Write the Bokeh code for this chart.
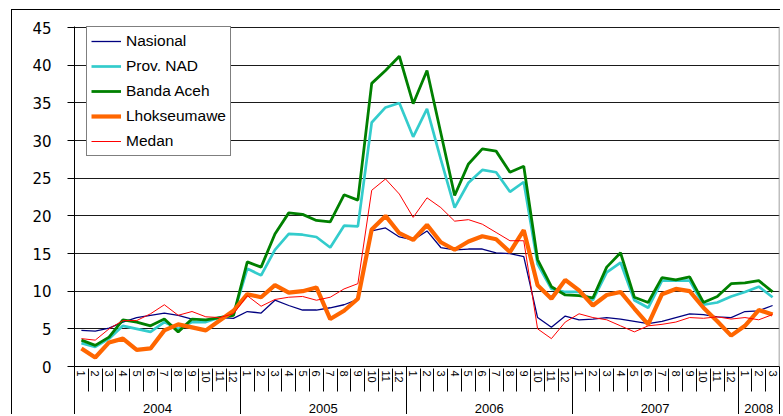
import math
from bokeh.plotting import figure
from bokeh.models import (Range1d, LinearAxis, FixedTicker, Span, Legend, LegendItem,
                          Grid, ColumnDataSource, BoxAnnotation, InlineStyleSheet)
from bokeh.embed import file_html
from bokeh.resources import INLINE

# ---------------- data ----------------
years = ["2004", "2005", "2006", "2007", "2008"]
months_per_year = [12, 12, 12, 12, 3]
month_labels = [str(m) for n in months_per_year for m in range(1, n + 1)]
y_ticks = [0, 5, 10, 15, 20, 25, 30, 35, 40, 45]

nasional = [4.8, 4.7, 5.1, 5.9, 6.5, 6.8, 7.1, 6.8, 6.3, 6.2, 6.5, 6.4,
            7.3, 7.1, 8.8, 8.1, 7.5, 7.5, 7.8, 8.2, 8.9, 18.0, 18.4, 17.2,
            16.8, 18.0, 15.8, 15.5, 15.6, 15.6, 15.1, 15.0, 14.6, 6.5, 5.2, 6.7,
            6.2, 6.3, 6.5, 6.3, 6.0, 5.7, 6.0, 6.5, 7.0, 6.9, 6.6, 6.5,
            7.3, 7.4, 8.1]
prov_nad = [3.1, 2.6, 3.7, 5.4, 5.0, 4.6, 5.9, 5.0, 5.9, 5.9, 6.5, 6.9,
            13.0, 12.1, 15.5, 17.6, 17.5, 17.2, 15.8, 18.7, 18.6, 32.4, 34.4, 35.0,
            30.5, 34.2, 27.5, 21.1, 24.4, 26.1, 25.8, 23.2, 24.5, 13.6, 10.3, 9.9,
            9.9, 8.8, 12.5, 13.8, 8.8, 7.8, 11.4, 11.4, 11.4, 8.2, 8.5, 9.3,
            9.9, 10.6, 9.2]
banda_aceh = [3.5, 2.8, 3.9, 6.2, 5.9, 5.4, 6.3, 4.6, 6.3, 6.2, 6.5, 6.8,
              13.9, 13.2, 17.6, 20.4, 20.2, 19.4, 19.2, 22.8, 22.1, 37.6, 39.3, 41.2,
              34.9, 39.3, 31.0, 22.7, 26.9, 28.9, 28.6, 25.8, 26.6, 14.2, 10.6, 9.5,
              9.4, 9.1, 13.2, 15.1, 9.2, 8.5, 11.8, 11.5, 11.9, 8.5, 9.3, 11.0,
              11.1, 11.4, 9.9]
lhokseumawe = [2.4, 1.2, 3.2, 3.7, 2.2, 2.4, 4.8, 5.6, 5.2, 4.8, 6.1, 7.4,
               9.6, 9.2, 10.8, 9.8, 10.0, 10.5, 6.3, 7.4, 9.0, 18.2, 20.0, 17.7,
               16.8, 18.8, 16.5, 15.5, 16.6, 17.3, 16.9, 15.2, 18.1, 10.8, 9.0, 11.5,
               10.1, 8.1, 9.5, 9.9, 7.7, 5.6, 9.6, 10.3, 10.0, 7.8, 6.0, 4.1,
               5.4, 7.5, 6.9]
medan = [3.7, 3.5, 5.0, 6.1, 6.1, 7.0, 8.2, 6.8, 7.3, 6.6, 6.5, 7.0,
         9.4, 8.0, 8.9, 9.2, 9.3, 8.8, 9.2, 10.3, 11.0, 23.4, 24.9, 22.9,
         19.8, 22.4, 21.1, 19.3, 19.5, 18.9, 17.8, 16.7, 16.7, 5.0, 3.7, 5.9,
         7.0, 6.5, 6.2, 5.4, 4.6, 5.4, 5.6, 5.9, 6.5, 6.4, 6.6, 6.3,
         6.5, 6.2, 6.9]

series_names = ["Nasional", "Prov. NAD", "Banda Aceh", "Lhokseumawe", "Medan"]
series_values = [nasional, prov_nad, banda_aceh, lhokseumawe, medan]
series_colors = ["#000080", "#33CCCC", "#008000", "#FF6600", "#FF0000"]
series_widths = [1.3, 2.7, 2.8, 4.2, 1.0]

# ---------------- figure ----------------
n = len(month_labels)
idx = list(range(n))

p = figure(width=769, height=405, x_range=Range1d(-0.5, n - 0.5), y_range=Range1d(0, 45.15),
           output_backend="svg", toolbar_location=None, x_axis_type=None, y_axis_type=None,
           min_border_left=62, min_border_right=2, min_border_top=16, min_border_bottom=49,
           background_fill_color="white", border_fill_color="white")
p.outline_line_color = None
p.margin = (9, 0, 0, 11)
p.stylesheets = [InlineStyleSheet(css=":host { border-left: 1.5px solid #000; border-top: 1.5px solid #000; }")]

# doubled range for year-level ticks (keeps year centres on integers)
p.extra_x_ranges = {"yr": Range1d(-1, 2 * n - 1)}

# y axis and grid
y_ticker = FixedTicker(ticks=y_ticks, minor_ticks=[])
yaxis = LinearAxis(ticker=y_ticker, major_tick_out=7, major_tick_in=0,
                   minor_tick_out=0, minor_tick_in=0,
                   axis_line_color="black", axis_line_width=1,
                   major_tick_line_color="black",
                   major_label_standoff=16,
                   major_label_text_font="DejaVu Sans",
                   major_label_text_font_size="15px",
                   major_label_text_color="black")
p.add_layout(yaxis, "left")
p.add_layout(Grid(dimension=1, ticker=y_ticker, grid_line_color="#1a1a1a", grid_line_width=1))

# A: month labels
maxis = LinearAxis(ticker=FixedTicker(ticks=idx, minor_ticks=[]),
                   major_label_overrides={i: lab for i, lab in zip(idx, month_labels)},
                   major_tick_out=0, major_tick_in=0, minor_tick_out=0, minor_tick_in=0,
                   axis_line_color="black", axis_line_width=1,
                   major_label_orientation=-math.pi / 2,
                   major_label_standoff=4,
                   major_label_text_font="Liberation Sans",
                   major_label_text_font_size="11px",
                   major_label_text_color="black")
p.add_layout(maxis, "below")

# B: month separators
month_bounds = [i - 0.5 for i in range(n + 1)]
sep_axis = LinearAxis(ticker=FixedTicker(ticks=[], minor_ticks=month_bounds),
                      major_tick_out=0, major_tick_in=0,
                      minor_tick_in=17, minor_tick_out=6,
                      minor_tick_line_color="black", minor_tick_line_width=1,
                      axis_line_color=None, major_label_standoff=0)
p.add_layout(sep_axis, "below")

# C: year labels
year_bounds2 = [-1]
for m in months_per_year:
    year_bounds2.append(year_bounds2[-1] + 2 * m)
year_centers2 = [(a + b) // 2 for a, b in zip(year_bounds2[:-1], year_bounds2[1:])]
yr_axis = LinearAxis(x_range_name="yr",
                     ticker=FixedTicker(ticks=year_centers2, minor_ticks=[]),
                     major_label_overrides={c: y for c, y in zip(year_centers2, years)},
                     major_tick_out=0, major_tick_in=0, minor_tick_out=0, minor_tick_in=0,
                     axis_line_color=None,
                     major_label_standoff=12,
                     major_label_text_font="Liberation Sans",
                     major_label_text_font_size="13px",
                     major_label_text_color="black")
p.add_layout(yr_axis, "below")

# D: year separators (drawn upward from the bottom)
ysep_axis = LinearAxis(x_range_name="yr",
                       ticker=FixedTicker(ticks=[], minor_ticks=year_bounds2),
                       major_tick_out=0, major_tick_in=0,
                       minor_tick_in=49, minor_tick_out=0,
                       minor_tick_line_color="black", minor_tick_line_width=1,
                       axis_line_color=None, major_label_standoff=0)
p.add_layout(ysep_axis, "below")

# right border of plot area
p.add_layout(Span(location=n - 0.5, dimension="height", line_color="#808080", line_width=1.5))

# outer chart border (left and top edges of the chart area)
p.add_layout(BoxAnnotation(left=0.75, top=0.75, right=2000, bottom=2000,
                           left_units="canvas", top_units="canvas",
                           right_units="canvas", bottom_units="canvas",
                           fill_color=None, fill_alpha=0,
                           line_color="black", line_width=1.5, line_alpha=1))

# lines
items = []
for name, vals, col, w in zip(series_names, series_values, series_colors, series_widths):
    src = ColumnDataSource(dict(x=idx, y=vals))
    r = p.line("x", "y", source=src, line_color=col, line_width=w)
    items.append(LegendItem(label=name, renderers=[r]))

legend = Legend(items=items, location=(12, 210),
                border_line_color="black", border_line_width=1,
                background_fill_color="white", background_fill_alpha=1,
                padding=4, spacing=5, margin=0,
                label_height=20, glyph_height=20, glyph_width=30, label_standoff=5,
                label_text_font="Liberation Sans", label_text_font_size="15.5px",
                label_text_color="black")
p.add_layout(legend)

open("out.html", "w").write(file_html(p, INLINE))
